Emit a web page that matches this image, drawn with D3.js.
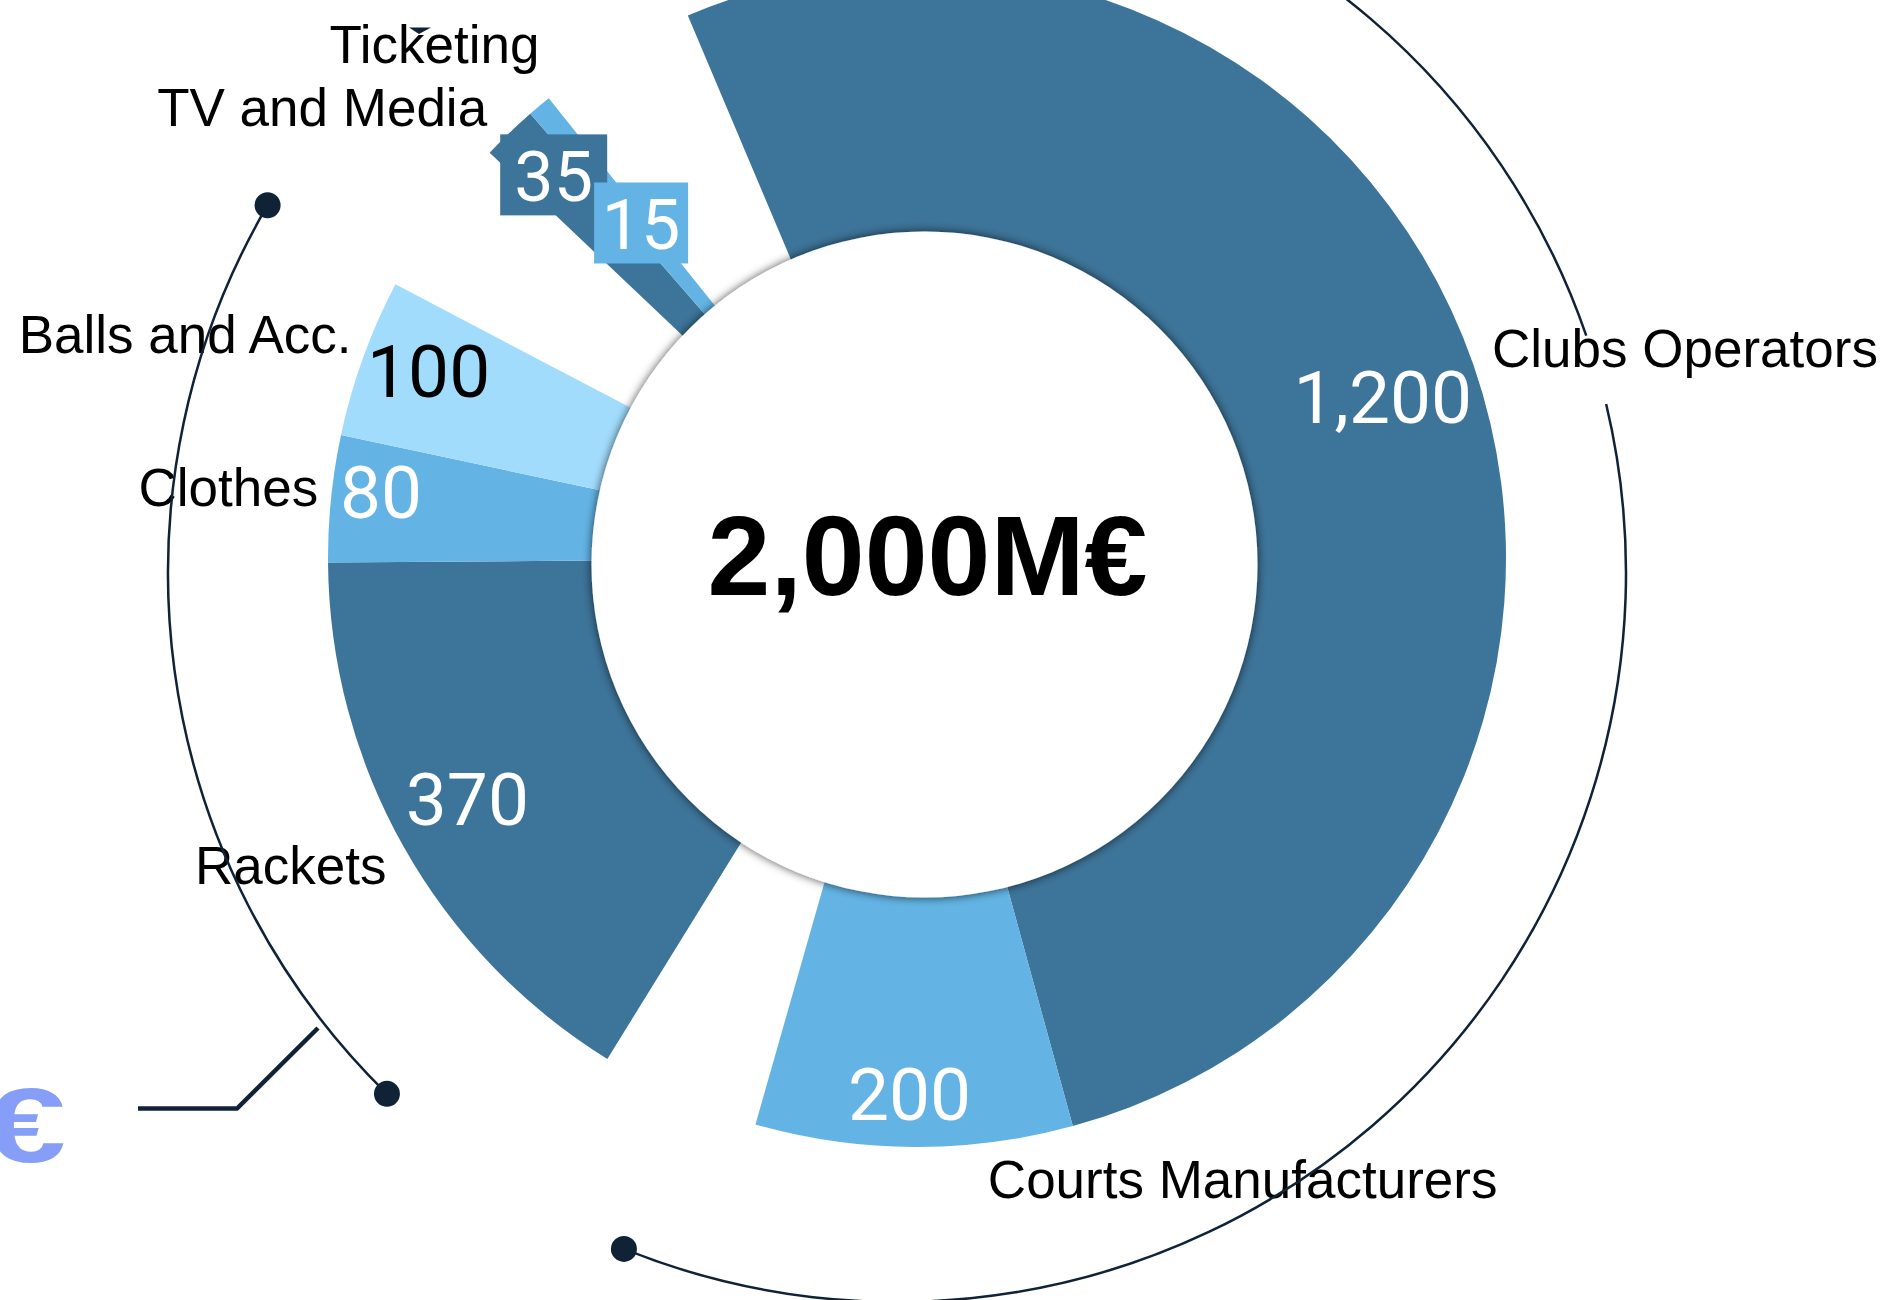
<!DOCTYPE html>
<meta charset="utf-8">
<style>
body { margin: 0; background: #fff; }
svg text { font-family: "Liberation Sans", Arial, sans-serif; }
.name { font-size: 53px; fill: #000; }
.val { font-family: Roboto, "Liberation Sans", sans-serif; font-weight: 400; font-size: 73px; }
.total { font-size: 113px; font-weight: bold; fill: #000; }
</style>
<body>
<div id="chart"></div>
<script src="https://cdnjs.cloudflare.com/ajax/libs/d3/7.8.5/d3.min.js"></script>
<script>
// data (million euros)
var categories = ["Clubs Operators", "Courts Manufacturers", "Rackets", "Clothes", "Balls and Acc.", "TV and Media", "Ticketing"];
var values = [1200, 200, 370, 80, 100, 35, 15];
var valueLabels = ["1,200", "200", "370", "80", "100", "35", "15"];
var groups = [0, 0, 1, 1, 1, 2, 2];
var totalLabel = "2,000M€";

// layout
var W = 1885, H = 1300;
var cx = 917, cy = 558, rOuter = 589, rInner = 300;
var hole = {x: 924.5, y: 564.5, r: 333};
var rad = Math.PI / 180;
var startAngle = -22.9 * rad, gap = 15.8 * rad;
var dark = "#3d7499", mid = "#63b4e4", light = "#a2dcfd", navy = "#0f2236";
var colors = [dark, mid, dark, mid, light, dark, mid];
var valColor = ["#fff", "#fff", "#fff", "#fff", "#000", "#fff", "#fff"];
var valR = [493, 536, 510, 540, 523, 528, 434];
var valDa = [0, 0.5, 1.2, 1.2, 1.1, 0.3, 0.4];
var boxW = [0, 0, 0, 0, 0, 107, 94];
var nameR = [612, 625, 613, 603, 608, 623, 638];
var nameDa = [-0.9, -6.8, -0.7, 1, 1.7, 0.15, 3.6];
var nameAnchor = ["start", "start", "end", "end", "end", "end", "end"];

var svg = d3.select("#chart").append("svg")
    .attr("width", W)
    .attr("height", H);

var defs = svg.append("defs");
var filt = defs.append("filter").attr("id", "shadow")
    .attr("x", "-20%").attr("y", "-20%").attr("width", "140%").attr("height", "140%");
filt.append("feDropShadow")
    .attr("dx", 0).attr("dy", 0)
    .attr("stdDeviation", 5)
    .attr("flood-color", "#000")
    .attr("flood-opacity", 0.7);

// angle scale: the three groups are split by equal gaps
var angle = d3.scaleLinear()
    .domain([0, d3.sum(values)])
    .range([0, 2 * Math.PI - 3 * gap]);

var a = startAngle;
var slices = values.map(function(v, i) {
  if (i > 0 && groups[i] !== groups[i - 1]) a += gap;
  var s = {i: i, value: v, startAngle: a, endAngle: a + angle(v)};
  a = s.endAngle;
  return s;
});

function polar(r, ang) {
  return [cx + r * Math.sin(ang), cy - r * Math.cos(ang)];
}

var arc = d3.arc().innerRadius(rInner).outerRadius(rOuter);

svg.append("g")
    .attr("transform", "translate(" + cx + "," + cy + ")")
  .selectAll("path")
  .data(slices)
  .enter().append("path")
    .attr("d", arc)
    .attr("fill", function(d) { return colors[d.i]; });

// white centre with soft shadow
svg.append("circle")
    .attr("cx", hole.x)
    .attr("cy", hole.y)
    .attr("r", hole.r)
    .attr("fill", "#fff")
    .attr("filter", "url(#shadow)");

svg.append("text")
    .attr("class", "total")
    .attr("x", 927.5)
    .attr("y", 595)
    .attr("text-anchor", "middle")
    .text(totalLabel);

// value labels
var vals = svg.append("g").selectAll("g")
  .data(slices)
  .enter().append("g")
    .attr("transform", function(d) {
      var p = polar(valR[d.i], (d.startAngle + d.endAngle) / 2 + valDa[d.i] * rad);
      return "translate(" + p[0] + "," + p[1] + ")";
    });

vals.filter(function(d) { return boxW[d.i] > 0; })
  .append("rect")
    .attr("x", function(d) { return -boxW[d.i] / 2; })
    .attr("y", -40.5)
    .attr("width", function(d) { return boxW[d.i]; })
    .attr("height", 81)
    .attr("fill", function(d) { return colors[d.i]; });

vals.append("text")
    .attr("class", "val")
    .attr("text-anchor", "middle")
    .attr("y", 26)
    .attr("fill", function(d) { return valColor[d.i]; })
    .style("font-size", function(d) { return boxW[d.i] > 0 ? "70px" : null; })
    .text(function(d) { return valueLabels[d.i]; });

// category labels
svg.append("g").selectAll("text")
  .data(slices)
  .enter().append("text")
    .attr("class", "name")
    .attr("text-anchor", function(d) { return nameAnchor[d.i]; })
    .attr("x", function(d) { return polar(nameR[d.i], (d.startAngle + d.endAngle) / 2 + nameDa[d.i] * rad)[0]; })
    .attr("y", function(d) { return polar(nameR[d.i], (d.startAngle + d.endAngle) / 2 + nameDa[d.i] * rad)[1] + 19; })
    .text(function(d) { return categories[d.i]; });

// decorative rings
var ring = {x: 897, y: 573, r: 729};
var ringParts = [[224.4, 300.3], [10, 71], [76.6, 202]];
var deco = svg.append("g");
ringParts.forEach(function(p) {
  var path = d3.path();
  path.arc(ring.x, ring.y, ring.r, p[0] * rad - Math.PI / 2, p[1] * rad - Math.PI / 2, false);
  deco.append("path")
      .attr("d", path.toString())
      .attr("fill", "none")
      .attr("stroke", navy)
      .attr("stroke-width", 2.5);
});
[300.3, 224.4, 202].forEach(function(d) {
  deco.append("circle")
      .attr("cx", ring.x + ring.r * Math.sin(d * rad))
      .attr("cy", ring.y - ring.r * Math.cos(d * rad))
      .attr("r", 13)
      .attr("fill", navy);
});

// small marker near the ticketing label
deco.append("path")
    .attr("d", "M409,27.5L431,27.5L419,34Z")
    .attr("fill", navy);

// bracket and euro sign
deco.append("path")
    .attr("d", "M138,1108.5L237,1108.5L318,1028")
    .attr("fill", "none")
    .attr("stroke", navy)
    .attr("stroke-width", 4.5);

svg.append("text")
    .attr("transform", "translate(66,1162) scale(1.4,1)")
    .attr("text-anchor", "end")
    .attr("font-size", 106)
    .attr("font-weight", "bold")
    .attr("fill", "#879ef8")
    .text("€");
</script>
